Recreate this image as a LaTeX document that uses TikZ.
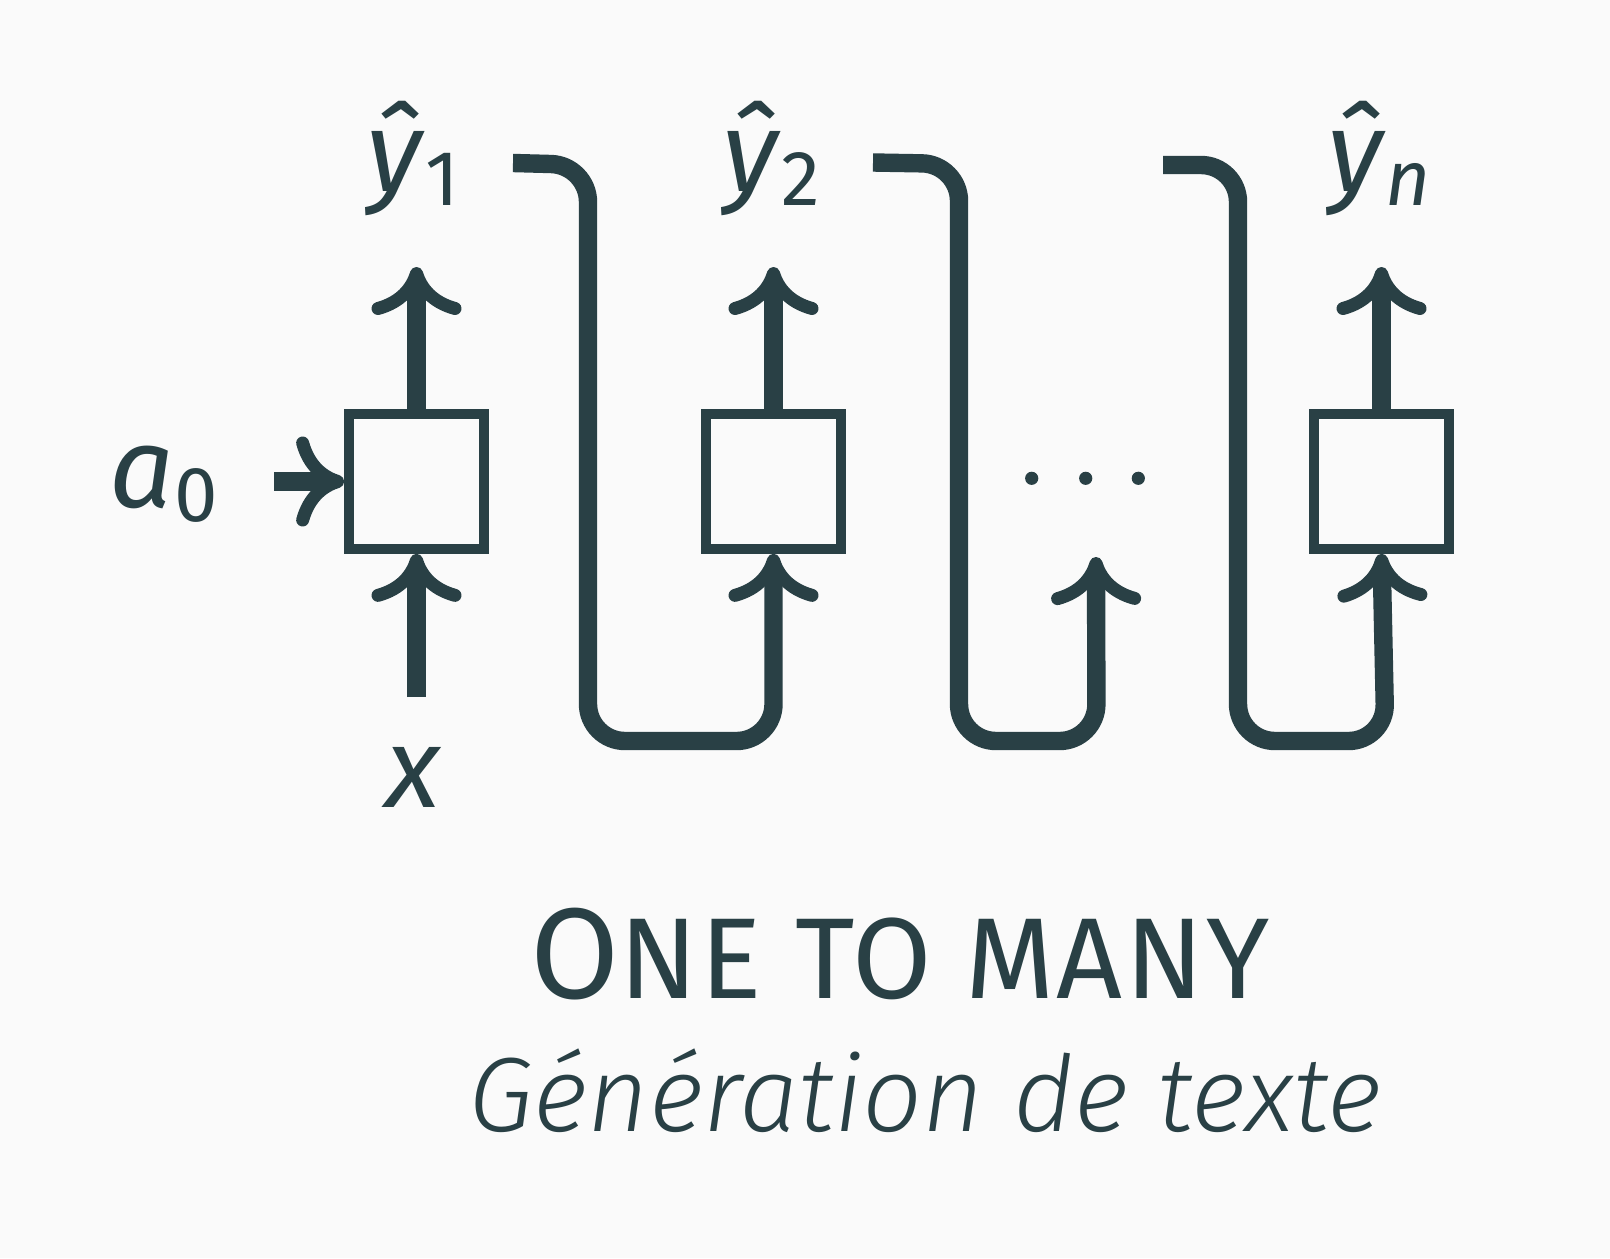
\documentclass[tikz,border=0pt]{standalone}
\usepackage{fontspec}
\setmainfont{Fira Sans}
\newfontfamily\lightit{Fira Sans Light Italic}
\usetikzlibrary{arrows.meta}
\definecolor{ink}{RGB}{41,64,69}
\definecolor{paper}{RGB}{250,250,250}
\newcommand\lbl[2]{\textit{#1}\raisebox{-7pt}{\fontsize{39pt}{40pt}\selectfont #2}}
\tikzset{
  cell/.style={draw=ink,fill=paper,line width=4.85pt,minimum size=67.5pt,inner sep=0pt},
  flow/.style={draw=ink,line width=9.5pt,-{Computer Modern Rightarrow[length=24pt,width=45pt,line width=6.5pt]}},
  wire/.style={flow,line width=9.2pt,rounded corners=18.5pt},
  var/.style={text=ink,inner sep=0pt,anchor=base,font=\fontsize{57pt}{60pt}\selectfont},
}
\begin{document}
\begin{tikzpicture}[x=0.5pt,y=-0.5pt]
\fill[paper] (0,0) rectangle (1610,1258);
\node[cell] (cell1) at (416.5,481.5) {};
\node[cell] (cell2) at (773.5,481.5) {};
\node[cell] (celln) at (1381.5,481.5) {};
\coordinate (xin) at (416.5,697);
\coordinate (ain) at (274,481.5);
\coordinate (out1) at (416.5,267);
\coordinate (out2) at (773.5,267);
\coordinate (outn) at (1381.5,267);
\coordinate (s1) at (513,163);
\coordinate (s2) at (873,162.5);
\coordinate (s3) at (1163,165);
\coordinate (tip3) at (1096,557);
\node[var] (yhat1) at (413,191) {\lbl{ŷ}{1}};
\node[var] (yhat2) at (771,191) {\lbl{ŷ}{2}};
\node[var] (yhatn) at (1379,191) {\lbl{ŷ}{\textit{n}}};
\node[var] (xlab) at (413.5,807.7) {\textit{x}};
\node[var] (alab) at (163.4,507) {\lbl{a}{0}};
\draw[flow] (xin) -- (cell1.south);
\draw[flow] (ain) -- (cell1.west);
\draw[flow] (cell1.north) -- (out1);
\draw[flow] (cell2.north) -- (out2);
\draw[flow] (celln.north) -- (outn);
\draw[wire] (s1) -- (588,165) -- (588,741) -- (773.5,741) -- (cell2.south);
\draw[wire] (s2) -- (959,164) -- (959,741) -- (1096.5,741) -- (tip3);
\draw[wire] (s3) -- (1238,165) -- (1238,741) -- (1385.5,741) -- (celln.south);
\foreach \dx in {1031.7,1085.7,1138.3} \fill[ink] (\dx,478.3) circle[radius=3.3pt];
\node[var,font=\fontsize{64.5pt}{66pt}\selectfont\addfontfeature{LetterSpace=2}] (title) at (900,998) {O{\fontsize{57.5pt}{60pt}\selectfont NE TO MANY}};
\node[var,font=\fontsize{52.8pt}{56pt}\selectfont\lightit] (subtitle) at (925,1131) {Génération de texte};
\end{tikzpicture}
\end{document}
